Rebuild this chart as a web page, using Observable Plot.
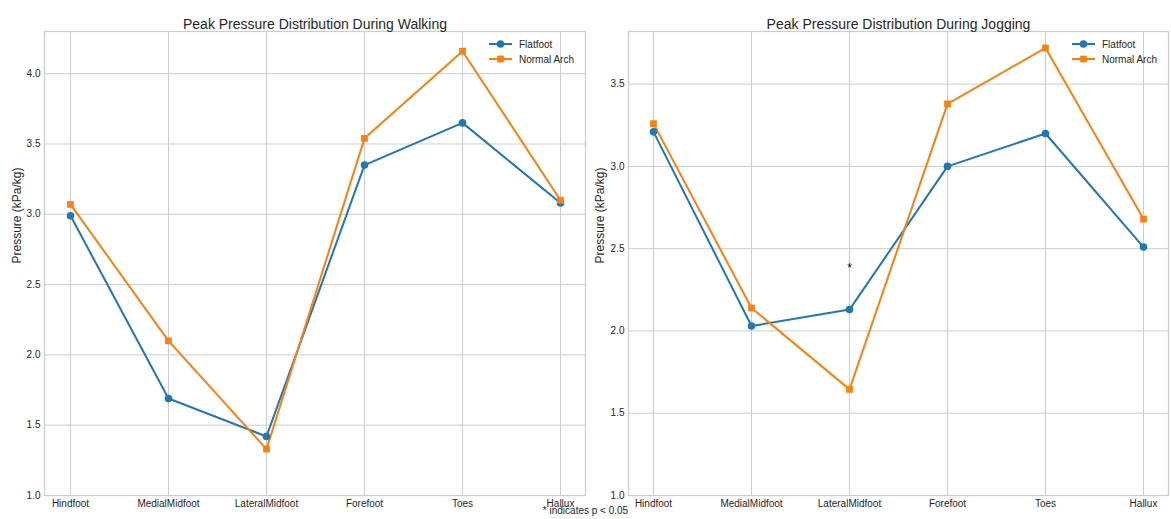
<!DOCTYPE html>
<html>
<head>
<meta charset="utf-8">
<script src="https://cdn.jsdelivr.net/npm/d3@7"></script>
<script src="https://cdn.jsdelivr.net/npm/@observablehq/plot@0.6"></script>
<style>
  html, body { margin: 0; padding: 0; background: #fff; }
  #wrap { position: relative; width: 1171px; height: 519px; overflow: hidden; background: #fff;
          font-family: "Liberation Sans", Arial, sans-serif; color: #262626; }
  #wrap svg { position: absolute; top: 0; overflow: visible; }
  #caption { position: absolute; left: 0; width: 1171px; text-align: center; top: 505px;
             font-size: 10px; line-height: 12px; color: #262626; }
</style>
</head>
<body>
<div id="wrap"><div id="caption">* indicates p &lt; 0.05</div></div>
<script>
const categories = ["Hindfoot", "MedialMidfoot", "LateralMidfoot", "Forefoot", "Toes", "Hallux"];
const seriesNames = ["Flatfoot", "Normal Arch"];
const seriesColors = ["#1f77b4", "#ff7f0e"];
const seriesSymbols = ["circle", "square"];

const walkingFlatfoot = [2.99, 1.69, 1.42, 3.35, 3.65, 3.08];
const walkingNormal   = [3.07, 2.10, 1.33, 3.54, 4.16, 3.10];
const joggingFlatfoot = [3.21, 2.03, 2.13, 3.00, 3.20, 2.51];
const joggingNormal   = [3.26, 2.14, 1.645, 3.38, 3.72, 2.68];

const walkingTicks = [1.0, 1.5, 2.0, 2.5, 3.0, 3.5, 4.0];
const joggingTicks = [1.0, 1.5, 2.0, 2.5, 3.0, 3.5];
const walkingDomain = [1.0, 4.30];
const joggingDomain = [1.0, 3.82];

const walkingStars = [];
const joggingStars = [{cat: "LateralMidfoot", y: 2.38}];

const titles = ["Peak Pressure Distribution During Walking", "Peak Pressure Distribution During Jogging"];
const yLabel = "Pressure (kPa/kg)";

function toRows(a, b) {
  const rows = [];
  categories.forEach((c, i) => rows.push({cat: c, v: a[i], series: seriesNames[0]}));
  categories.forEach((c, i) => rows.push({cat: c, v: b[i], series: seriesNames[1]}));
  return rows;
}

const FONT = '"Liberation Sans", Arial, sans-serif';
const GRID = "#cccccc";
const TEXT = "#262626";

function panel({left, width, marginLeft, marginRight, rows, domain, ticks, title, stars, ylabelDx}) {
  const marginTop = 31, marginBottom = 24, height = 519;
  const chart = Plot.plot({
    width, height, marginLeft, marginRight, marginTop, marginBottom,
    style: {fontFamily: FONT, fontSize: "10px", color: TEXT, background: "transparent"},
    x: {type: "point", domain: categories, padding: 0.25, label: null},
    y: {domain, label: null},
    color: {domain: seriesNames, range: seriesColors},
    symbol: {domain: seriesNames, range: seriesSymbols},
    marks: [
      Plot.gridX(categories, {stroke: GRID, strokeOpacity: 1, strokeWidth: 1}),
      Plot.gridY(ticks, {stroke: GRID, strokeOpacity: 1, strokeWidth: 1}),
      Plot.frame({stroke: GRID, strokeWidth: 1.25}),
      Plot.axisX({tickSize: 0, tickPadding: 4, fontSize: 10, fill: TEXT, label: null}),
      Plot.axisY(ticks, {tickSize: 0, tickPadding: 4, fontSize: 10, fill: TEXT, tickFormat: d3.format(".1f"), label: null}),
      Plot.lineY(rows, {x: "cat", y: "v", z: "series", stroke: "series", strokeWidth: 2}),
      Plot.dot(rows, {x: "cat", y: "v", fill: "series", symbol: "series", r: 3.8, stroke: "none"}),
      Plot.text(stars, {x: "cat", y: "y", text: () => "*", fontSize: 12, fill: "#000"}),
      Plot.text([title], {frameAnchor: "top", dy: -12, fontSize: 14, fill: TEXT}),
      Plot.text([yLabel], {frameAnchor: "left", dx: ylabelDx, rotate: -90, fontSize: 12, fill: TEXT})
    ]
  });
  chart.style.left = left + "px";
  // legend (upper right, no frame)
  const svg = d3.select(chart);
  const fr = width - marginRight;
  const g = svg.append("g").attr("font-family", FONT).attr("font-size", 10).attr("fill", TEXT)
    .attr("text-anchor", "start");
  seriesNames.forEach((name, i) => {
    const y = marginTop + 13 + i * 15;
    g.append("line").attr("x1", fr - 96).attr("x2", fr - 73).attr("y1", y).attr("y2", y)
      .attr("stroke", seriesColors[i]).attr("stroke-width", 2);
    const sym = d3.symbol().type(i === 0 ? d3.symbolCircle : d3.symbolSquare).size(Math.PI * 3.8 * 3.8);
    g.append("path").attr("d", sym()).attr("transform", `translate(${fr - 84.5},${y})`).attr("fill", seriesColors[i]);
    g.append("text").attr("x", fr - 66).attr("y", y).attr("dy", "0.35em").attr("text-anchor", "start").text(name);
  });
  return chart;
}

const wrap = document.getElementById("wrap");
wrap.appendChild(panel({
  left: 0, width: 590, marginLeft: 44, marginRight: 5,
  rows: toRows(walkingFlatfoot, walkingNormal), domain: walkingDomain, ticks: walkingTicks,
  title: titles[0], stars: walkingStars, ylabelDx: -27
}));
wrap.appendChild(panel({
  left: 590, width: 581, marginLeft: 38, marginRight: 3,
  rows: toRows(joggingFlatfoot, joggingNormal), domain: joggingDomain, ticks: joggingTicks,
  title: titles[1], stars: joggingStars, ylabelDx: -28
}));
</script>
</body>
</html>
